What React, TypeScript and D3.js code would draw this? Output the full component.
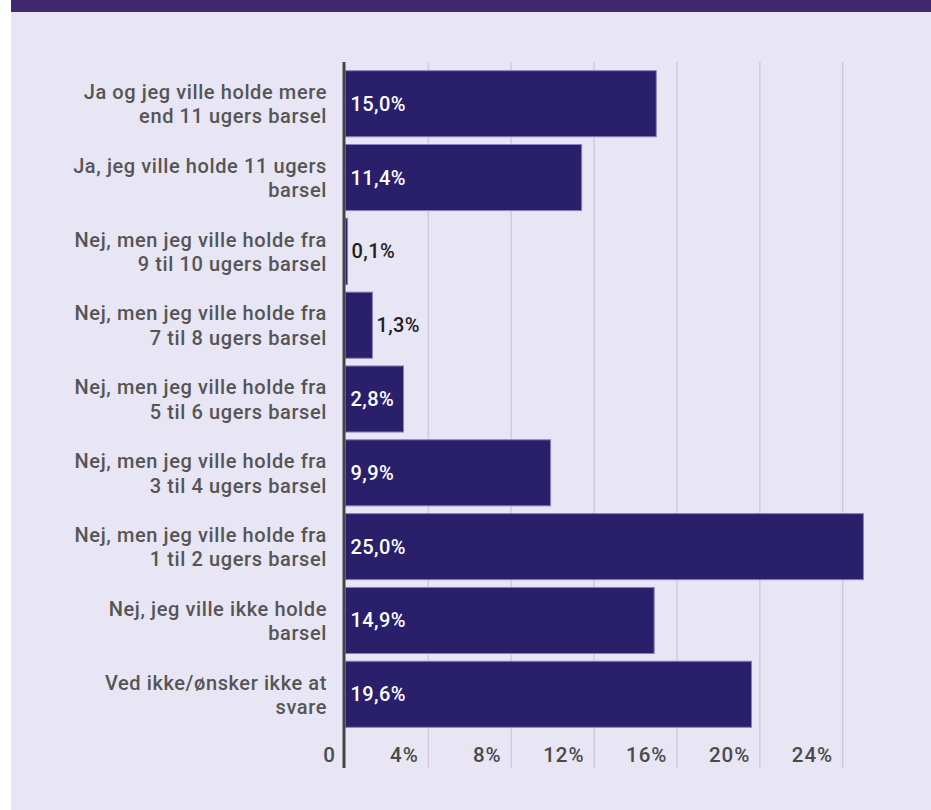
import React from "react";
import * as d3 from "d3";

const categories: string[][] = [
  ["Ja og jeg ville holde mere", "end 11 ugers barsel"],
  ["Ja, jeg ville holde 11 ugers", "barsel"],
  ["Nej, men jeg ville holde fra", "9 til 10 ugers barsel"],
  ["Nej, men jeg ville holde fra", "7 til 8 ugers barsel"],
  ["Nej, men jeg ville holde fra", "5 til 6 ugers barsel"],
  ["Nej, men jeg ville holde fra", "3 til 4 ugers barsel"],
  ["Nej, men jeg ville holde fra", "1 til 2 ugers barsel"],
  ["Nej, jeg ville ikke holde", "barsel"],
  ["Ved ikke/ønsker ikke at", "svare"],
];
const values: number[] = [15.0, 11.4, 0.1, 1.3, 2.8, 9.9, 25.0, 14.9, 19.6];
const ticks: number[] = [4, 8, 12, 16, 20, 24];

const W = 931;
const H = 810;

export default function App() {
  const x = d3.scaleLinear().domain([0, 24]).range([345.5, 842.7]);
  const y = d3
    .scaleBand<number>()
    .domain(values.map((_, i) => i))
    .range([67, 731])
    .paddingInner(0.105)
    .paddingOuter(0.05);
  const fmt = (v: number) => v.toFixed(1).replace(".", ",") + "%";
  const font = "Roboto, 'Noto Sans', sans-serif";
  return (
    <svg
      width={W}
      height={H}
      style={{ position: "absolute", left: 0, top: 0, display: "block" }}
      fontFamily={font}
    >
      <rect x={0} y={0} width={W} height={H} fill="#ffffff" />
      <rect x={11} y={0} width={W - 11} height={H} fill="#E8E5F4" />
      <rect x={11} y={0} width={W - 11} height={12} fill="#3F2870" />
      {ticks.map((t) => (
        <g key={t}>
          <line
            x1={x(t)}
            x2={x(t)}
            y1={62}
            y2={768}
            stroke="#CFCBDB"
            strokeWidth={1.5}
          />
          <text
            x={x(t) - 9.5}
            y={762}
            textAnchor="end"
            fontSize={20.5}
            fontWeight={500}
            letterSpacing={1}
            fill="#4a4a4a"
          >
            {t}%
          </text>
        </g>
      ))}
      {values.map((v, i) => {
        const by = y(i)!;
        const bh = y.bandwidth();
        const bw = x(v) - x(0);
        const inside = v >= 2;
        return (
          <g key={i}>
            <rect
              x={x(0)}
              y={by}
              width={bw}
              height={bh}
              fill="#2A1F6B"
              stroke="#8A80BE"
              strokeWidth={1}
            />
            <text
              x={inside ? x(0) + 5 : x(v) + 4}
              y={by + bh / 2}
              dy="0.35em"
              fontSize={20}
              fontWeight={500}
              letterSpacing={0.4}
              fill={inside ? "#ffffff" : "#222222"}
            >
              {fmt(v)}
            </text>
            {categories[i].map((line, j) => (
              <text
                key={j}
                x={327}
                y={by + bh / 2 - 4.7 + j * 24.4}
                textAnchor="end"
                fontSize={20}
                fontWeight={500}
                letterSpacing={0.6}
                fill="#555555"
              >
                {line}
              </text>
            ))}
          </g>
        );
      })}
      <line x1={344} x2={344} y1={62} y2={768} stroke="#444444" strokeWidth={3} />
      <text
        x={335}
        y={762}
        textAnchor="end"
        fontSize={20.5}
        fontWeight={500}
        fill="#4a4a4a"
      >
        0
      </text>
    </svg>
  );
}
